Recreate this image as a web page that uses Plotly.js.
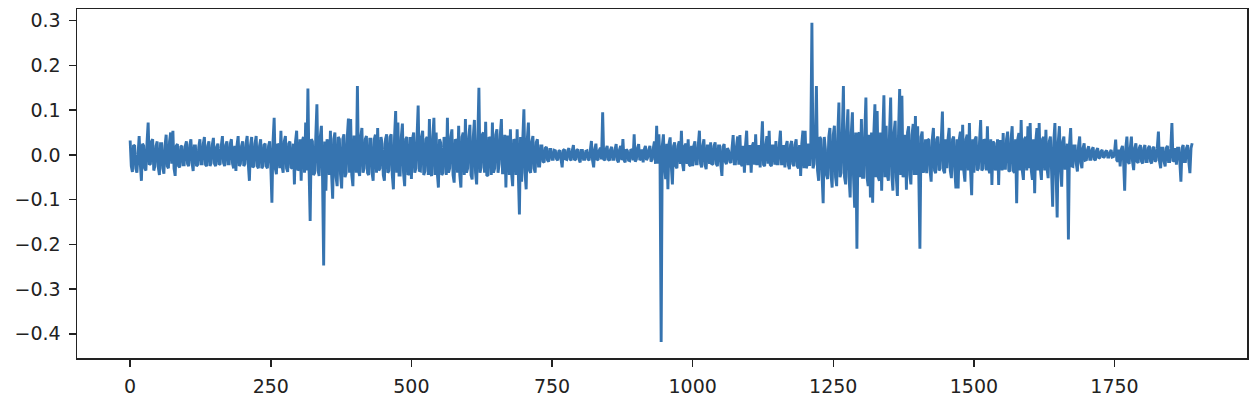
<!DOCTYPE html>
<html>
<head>
<meta charset="utf-8">
<script src="https://cdn.plot.ly/plotly-3.0.1.min.js"></script>
<style>
  html, body { margin: 0; padding: 0; background: #fff; }
  #chart { width: 1252px; height: 400px; }
</style>
</head>
<body>
<div id="chart"></div>
<script>
// Values. "a" arrays hold samples at index 0,4,8,...;
// "b" arrays hold the samples in between (index 2,6,10,...). Each line covers 100 index units.
const a0000 = [0.032,-0.038,0.02,-0.04,0.042,-0.058,0.02,-0.035,0.072,-0.02,0.035,-0.025,0.03,-0.045,0.025,-0.042,0.045,-0.03,0.05,0.054,-0.047,0.024,-0.028,0.02,-0.022];
const b0000 = [-0.025,0.022,-0.03,0.018,-0.02,0.025,-0.03,0.028,-0.022,0.03,-0.035,0.02,-0.028,0.025,-0.03,0.02,-0.025,0.03,-0.02,-0.03,0.02,-0.025,0.018,-0.022,0.02];
const a0100 = [0.03,-0.025,0.035,-0.036,0.02,-0.022,0.035,-0.02,0.04,-0.025,0.03,-0.018,0.038,-0.025,0.025,-0.02,0.042,-0.025,0.03,-0.02,0.035,-0.03,-0.036,0.042,-0.02];
const b0100 = [-0.02,0.022,-0.018,0.02,-0.025,0.018,-0.02,0.025,-0.022,0.02,-0.025,0.022,-0.02,0.018,-0.022,0.02,-0.018,0.022,-0.02,0.025,-0.02,0.02,0.022,-0.025,0.02];
const a0200 = [0.03,-0.02,0.042,-0.058,0.04,-0.025,0.042,-0.03,0.035,-0.025,0.025,-0.03,0.03,-0.107,0.083,-0.043,0.02,0.054,-0.04,0.042,-0.038,0.03,-0.03,-0.066,0.054];
const b0200 = [-0.025,0.025,-0.02,0.022,-0.028,0.025,-0.025,0.02,-0.03,0.022,-0.025,0.02,-0.025,0.03,-0.03,0.025,-0.03,-0.025,0.03,-0.03,0.025,-0.028,0.025,0.03,-0.035];
const a0300 = [-0.03,-0.058,0.04,0.072,0.148,-0.148,0.03,-0.04,0.113,-0.047,0.065,-0.247,-0.08,0.02,0.054,-0.098,0.05,-0.07,0.035,-0.075,0.046,-0.04,0.081,0.08,-0.07];
const b0300 = [0.035,0.03,-0.04,-0.035,-0.03,0.035,-0.045,0.04,-0.035,0.04,-0.05,0.03,0.035,-0.045,-0.04,0.035,-0.05,0.04,-0.045,0.035,-0.05,0.04,-0.04,-0.045,0.04];
const a0400 = [0.04,0.154,-0.047,0.06,-0.03,0.042,-0.045,0.035,-0.058,0.045,0.06,-0.03,0.025,-0.058,0.046,-0.035,0.046,-0.077,0.098,0.072,-0.045,0.07,-0.07,0.04,-0.04];
const b0400 = [-0.04,-0.035,0.04,-0.04,0.035,-0.04,0.035,-0.04,0.035,-0.04,-0.035,0.04,-0.045,0.035,-0.04,0.04,-0.045,0.04,-0.04,-0.045,0.04,-0.04,0.035,-0.045,0.04];
const a0500 = [-0.054,0.05,-0.03,0.11,-0.036,0.054,-0.036,0.04,0.08,-0.047,0.083,0.05,-0.073,0.027,-0.04,0.025,0.083,-0.03,0.057,-0.062,0.03,0.065,-0.073,0.05,0.08];
const b0500 = [0.035,-0.04,0.04,-0.035,0.04,-0.045,0.035,-0.045,-0.04,0.04,-0.045,-0.04,0.035,-0.045,0.04,-0.045,-0.04,0.04,-0.045,0.035,-0.04,-0.045,0.04,-0.045,-0.04];
const a0600 = [-0.03,0.067,-0.055,0.078,-0.066,0.15,-0.028,0.05,0.074,-0.047,0.035,0.072,-0.03,0.057,-0.02,0.08,-0.04,-0.073,0.04,0.057,-0.07,0.03,0.057,-0.133,-0.06];
const b0600 = [0.04,-0.045,0.04,-0.04,0.035,-0.04,0.045,-0.04,-0.045,0.04,-0.045,-0.04,0.045,-0.04,0.045,-0.04,0.045,0.04,-0.045,-0.04,0.035,-0.045,-0.04,0.04,0.035];
const a0700 = [0.102,-0.077,0.072,-0.04,0.042,-0.04,0.035,-0.025,0.02,-0.017,0.018,-0.015,0.012,-0.01,0.009,-0.012,0.01,-0.028,0.012,-0.01,0.015,-0.012,0.022,-0.01,0.012];
const b0700 = [-0.04,0.035,-0.035,0.03,-0.03,0.028,-0.025,0.02,-0.015,0.015,-0.012,0.012,-0.01,0.01,-0.009,0.008,-0.01,0.01,-0.009,0.01,-0.01,0.01,-0.012,0.01,-0.01];
const a0800 = [-0.017,0.01,-0.01,0.009,-0.012,0.031,-0.028,0.025,-0.01,0.016,0.095,-0.012,0.02,-0.013,0.018,-0.01,0.024,-0.017,0.02,0.035,-0.017,0.009,-0.013,0.01,0.046];
const b0800 = [0.01,-0.01,0.008,-0.01,0.01,-0.012,0.012,-0.012,0.01,-0.01,-0.01,0.012,-0.01,0.012,-0.01,0.012,-0.012,0.012,-0.012,-0.012,0.012,-0.012,0.012,-0.012,-0.015];
const a0900 = [-0.01,0.024,-0.008,-0.017,0.02,-0.006,0.02,-0.01,0.03,0.065,0.046,-0.418,0.046,-0.054,-0.077,0.039,-0.066,0.028,-0.03,0.03,0.054,-0.036,0.025,0.035,-0.025];
const b0900 = [0.015,-0.012,0.012,0.012,-0.012,0.012,-0.015,0.015,-0.02,-0.02,-0.02,0.02,-0.025,0.025,0.025,-0.025,0.02,-0.025,0.02,-0.02,-0.02,0.02,-0.02,-0.022,0.02];
const a1000 = [-0.025,0.03,-0.02,0.054,-0.028,0.035,-0.032,0.02,0.028,-0.02,0.028,-0.025,0.02,-0.047,0.024,-0.021,0.009,-0.018,0.044,-0.02,0.041,0.044,-0.025,-0.04,0.054];
const b1000 = [0.02,-0.02,0.022,-0.02,0.02,-0.022,0.02,-0.02,-0.022,0.02,-0.02,0.02,-0.022,0.018,-0.015,0.015,-0.015,0.015,-0.02,0.02,-0.022,-0.02,0.02,0.022,-0.02];
const a1100 = [-0.02,-0.04,0.028,0.046,-0.02,-0.028,0.075,-0.025,0.042,0.054,-0.025,0.02,0.031,-0.02,0.054,-0.02,-0.028,0.031,-0.032,0.031,-0.025,0.035,-0.03,-0.047,0.054];
const b1100 = [0.022,0.02,-0.022,-0.02,0.022,0.02,-0.022,0.022,-0.02,-0.022,0.02,-0.022,-0.02,0.022,-0.02,0.022,0.02,-0.022,0.022,-0.02,0.022,-0.025,0.022,0.025,-0.03];
const a1200 = [0.054,-0.02,-0.025,0.295,-0.02,0.154,-0.058,0.035,-0.108,0.013,-0.054,0.06,-0.073,0.065,-0.07,0.117,-0.04,0.154,-0.066,0.102,-0.095,0.095,-0.118,-0.21,0.05];
const b1200 = [-0.03,0.025,0.025,-0.03,0.03,-0.035,0.04,-0.045,0.04,-0.045,0.04,-0.045,0.045,-0.05,0.045,-0.05,0.05,-0.05,0.05,-0.05,0.05,-0.05,0.05,0.045,-0.05];
const a1300 = [0.08,-0.05,0.128,-0.07,-0.095,-0.107,0.113,0.098,-0.058,-0.08,0.133,0.065,-0.058,0.128,-0.08,0.076,-0.092,0.147,0.132,-0.04,-0.078,0.064,-0.066,0.069,0.087];
const b1300 = [-0.05,0.05,-0.05,0.045,0.05,0.045,-0.05,-0.05,0.05,0.045,-0.05,-0.045,0.05,-0.045,0.05,-0.05,0.05,-0.045,-0.05,0.045,0.05,-0.045,0.045,-0.045,-0.045];
const a1400 = [0.064,-0.21,0.052,-0.03,-0.041,0.033,-0.06,0.06,-0.041,0.041,-0.03,0.097,-0.041,-0.03,0.06,-0.052,0.041,-0.075,-0.075,0.052,0.067,-0.06,0.045,0.071,-0.09];
const b1400 = [-0.045,0.04,-0.04,0.035,0.035,-0.035,0.035,-0.035,0.035,-0.035,0.035,-0.035,0.035,0.035,-0.035,0.035,-0.035,0.035,0.035,-0.035,-0.035,0.035,-0.035,-0.035,0.035];
const a1500 = [-0.04,0.041,-0.03,0.078,-0.03,0.03,0.064,-0.041,-0.067,0.026,-0.02,-0.067,0.03,0.049,-0.03,0.052,-0.037,0.064,-0.04,-0.108,0.049,0.078,-0.056,0.04,0.064];
const b1500 = [0.035,-0.035,0.03,-0.035,0.035,-0.035,-0.03,0.035,0.03,-0.035,0.035,0.03,-0.035,-0.03,0.035,-0.035,0.035,-0.035,0.035,0.035,-0.035,-0.035,0.035,-0.035,-0.03];
const a1600 = [0.071,-0.056,-0.086,0.06,0.071,-0.056,0.04,0.056,-0.052,0.041,-0.116,0.071,-0.14,0.064,-0.071,0.041,-0.03,-0.189,0.06,-0.026,0.02,-0.037,0.041,-0.03,0.026];
const b1600 = [-0.035,0.035,0.03,-0.035,-0.03,0.035,-0.035,-0.03,0.03,-0.035,0.03,-0.035,0.03,-0.03,0.03,-0.03,0.025,0.025,-0.025,0.02,-0.02,0.02,-0.018,0.015,-0.012];
const a1700 = [-0.011,0.019,-0.01,0.017,-0.012,0.015,-0.006,0.011,-0.004,0.01,-0.005,0.011,-0.004,0.034,-0.015,-0.026,0.02,-0.08,0.041,-0.02,0.041,-0.034,0.026,-0.018,0.022];
const b1700 = [0.012,-0.01,0.012,-0.01,0.01,-0.008,0.008,-0.006,0.007,-0.005,0.006,-0.005,0.006,-0.012,0.012,0.012,-0.012,0.015,-0.015,0.015,-0.015,0.015,-0.015,0.015,-0.015];
const a1800 = [-0.019,0.022,-0.015,0.02,-0.019,0.018,-0.012,0.052,-0.03,0.015,-0.026,0.02,-0.015,0.071,-0.012,-0.022,0.015,-0.06,0.022,-0.015,0.022,-0.041,0.026];
const b1800 = [0.015,-0.015,0.015,-0.015,0.015,-0.015,0.015,-0.015,0.015,-0.015,0.015,-0.015,0.015,-0.015,0.015,0.015,-0.015,0.015,-0.015,0.015,-0.015,0.015];

// Spacing between consecutive samples above (index units)
const sampleStep = 2;

// Axis ticks
const xTickVals = [0, 250, 500, 750, 1000, 1250, 1500, 1750];
const xTickText = ["0", "250", "500", "750", "1000", "1250", "1500", "1750"];
const yTickVals = [-0.4, -0.3, -0.2, -0.1, 0.0, 0.1, 0.2, 0.3];
const yTickText = ["\u22120.4", "\u22120.3", "\u22120.2", "\u22120.1", "0.0", "0.1", "0.2", "0.3"];

const aAll = [].concat(a0000, a0100, a0200, a0300, a0400, a0500, a0600, a0700, a0800, a0900,
  a1000, a1100, a1200, a1300, a1400, a1500, a1600, a1700, a1800);
const bAll = [].concat(b0000, b0100, b0200, b0300, b0400, b0500, b0600, b0700, b0800, b0900,
  b1000, b1100, b1200, b1300, b1400, b1500, b1600, b1700, b1800);
const values = [];
for (let i = 0; i < aAll.length; i++) {
  values.push(aAll[i]);
  if (i < bAll.length) values.push(bAll[i]);
}
const index = values.map((_, i) => i * sampleStep);

const lineColor = '#3674b0';
const axisColor = '#222222';
const font = { family: 'DejaVu Sans, sans-serif', size: 19, color: '#222222' };

const trace = {
  type: 'scatter',
  mode: 'lines',
  x: index,
  y: values,
  line: { color: lineColor, width: 2.9 },
  hoverinfo: 'skip'
};

const axisCommon = {
  ticks: 'outside',
  ticklen: 7,
  tickwidth: 1.5,
  tickcolor: axisColor,
  showgrid: false,
  zeroline: false,
  showline: true,
  linecolor: axisColor,
  linewidth: 1.5,
  mirror: true,
  ticklabelstandoff: 4,
  tickfont: font
};

const layout = {
  width: 1252,
  height: 400,
  margin: { l: 77, r: 5, t: 9, b: 42, pad: 0 },
  paper_bgcolor: '#ffffff',
  plot_bgcolor: '#ffffff',
  showlegend: false,
  font: font,
  xaxis: Object.assign({ range: [-94.5, 1985.5], tickvals: xTickVals, ticktext: xTickText }, axisCommon),
  yaxis: Object.assign({ range: [-0.454, 0.326], tickvals: yTickVals, ticktext: yTickText }, axisCommon)
};

Plotly.newPlot('chart', [trace], layout, { staticPlot: true, displayModeBar: false });
</script>
</body>
</html>
